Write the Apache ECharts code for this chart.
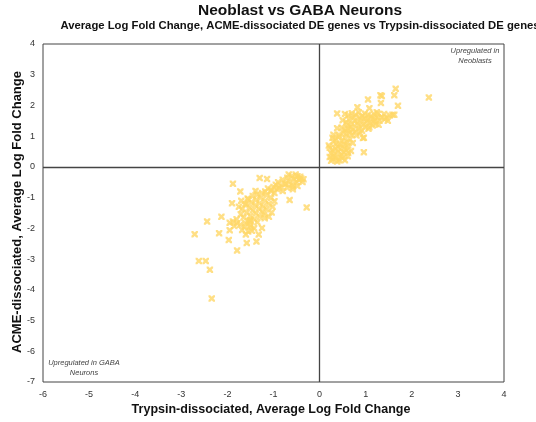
<!DOCTYPE html>
<html><head><meta charset="utf-8">
<script src="https://cdn.jsdelivr.net/npm/echarts@6/dist/echarts.min.js"></script>
<style>html,body{margin:0;padding:0;background:#fff}#c{width:536px;height:422px}</style>
</head><body><div id="c"></div>
<script>
var titleText = "Neoblast vs GABA Neurons";
var subtitleText = "Average Log Fold Change, ACME-dissociated DE genes vs Trypsin-dissociated DE genes";
var xName = "Trypsin-dissociated, Average Log Fold Change";
var yName = "ACME-dissociated, Average Log Fold Change";
var xTicks = [-6,-5,-4,-3,-2,-1,0,1,2,3,4];
var yTicks = [-7,-6,-5,-4,-3,-2,-1,0,1,2,3,4];
var noteNeoblast = "Upregulated in\nNeoblasts";
var noteGaba = "Upregulated in GABA\nNeurons";

var upperCluster = [
[2.37,2.26],[1.65,2.54],[1.62,2.33],[1.35,2.31],[1.32,2.33],[1.33,2.08],[1.05,2.19],[0.82,1.94],[1.08,1.91],[1.70,1.99],
[0.38,1.74],[1.24,1.78],[1.27,1.73],[1.26,1.62],[1.40,1.72],[1.52,1.67],[1.58,1.70],[1.62,1.70],[1.48,1.50],[1.41,1.55],
[1.28,1.37],[1.08,1.29],[1.06,1.24],[0.96,0.95],[0.96,0.48],[0.38,1.26],[0.61,0.35],[0.94,0.94],
[0.55,1.72],[0.62,1.68],[0.70,1.75],[0.78,1.70],[0.85,1.78],[0.92,1.66],[0.98,1.74],[1.05,1.70],[1.12,1.65],[1.18,1.72],
[0.74,1.62],[0.88,1.60],[1.00,1.58],[1.15,1.58],
[0.50,1.52],[0.58,1.45],[0.64,1.55],[0.70,1.40],[0.76,1.50],[0.82,1.44],[0.90,1.52],[0.95,1.38],[1.02,1.47],[1.10,1.42],
[0.60,1.36],[0.68,1.30],[0.85,1.35],[1.18,1.48],[1.22,1.40],
[0.48,1.28],[0.55,1.20],[0.62,1.25],[0.66,1.12],[0.72,1.22],[0.78,1.15],[0.84,1.25],[0.88,1.10],[0.92,1.18],[0.58,1.08],
[0.70,1.05],[0.80,1.02],[0.52,1.12],
[0.28,0.95],[0.35,0.88],[0.42,0.98],[0.48,0.85],[0.55,0.95],[0.60,0.80],[0.66,0.90],[0.72,0.78],[0.44,0.72],[0.52,0.75],
[0.36,0.76],[0.30,0.82],[0.62,0.70],[0.40,0.65],
[0.22,0.62],[0.28,0.55],[0.34,0.60],[0.40,0.50],[0.46,0.58],[0.52,0.48],[0.58,0.55],[0.25,0.45],[0.32,0.42],[0.48,0.40],
[0.62,0.45],[0.68,0.52],[0.20,0.70],[0.55,0.62],
[0.22,0.32],[0.28,0.25],[0.35,0.30],[0.42,0.22],[0.50,0.28],[0.38,0.18],[0.25,0.20],[0.55,0.22],[0.30,0.35],[0.45,0.34],
[1.05,1.55],[1.15,1.35],[1.20,1.55],[1.30,1.50],[0.98,1.30],[1.34,1.62],[1.45,1.60],[0.42,1.05],[0.30,1.05]
];

var lowerCluster = [
[-1.30,-0.36],[-1.14,-0.39],[-1.88,-0.55],[-1.72,-0.80],[-1.56,-1.03],[-1.90,-1.18],[-2.13,-1.62],[-2.44,-1.78],[-1.95,-1.82],[-1.95,-2.06],
[-2.18,-2.16],[-2.71,-2.19],[-1.97,-2.38],[-1.58,-2.48],[-1.37,-2.43],[-1.32,-2.20],[-1.25,-1.99],[-1.47,-2.08],[-1.60,-2.20],[-1.79,-2.72],
[-2.62,-3.06],[-2.47,-3.06],[-2.38,-3.35],[-2.34,-4.28],[-0.65,-1.08],[-0.28,-1.32],[-0.67,-0.25],[-0.52,-0.25],[-0.42,-0.32],[-0.37,-0.49],
[-0.48,-0.62],[-0.58,-0.73],[-0.74,-0.56],[-0.88,-0.69],[-1.05,-0.79],[-1.04,-1.48],[-1.10,-1.62],[-1.19,-1.67],[-1.51,-1.76],[-1.61,-1.83],
[-1.79,-1.83],[-1.71,-1.54],[-1.59,-1.21],[-1.39,-0.78],[-1.50,-1.73],[-1.50,-1.94],
[-0.60,-0.30],[-0.70,-0.35],[-0.55,-0.40],[-0.45,-0.42],[-0.80,-0.42],[-0.65,-0.48],[-0.50,-0.50],[-0.90,-0.50],[-0.75,-0.55],[-0.60,-0.58],
[-0.40,-0.38],[-0.85,-0.62],[-0.95,-0.58],[-1.00,-0.65],[-0.70,-0.68],[-1.05,-0.75],[-0.92,-0.72],[-0.80,-0.78],[-1.12,-0.70],[-0.48,-0.30],
[-0.35,-0.40],[-0.58,-0.65],[-1.18,-0.80],[-0.98,-0.85],
[-1.25,-0.85],[-1.35,-0.90],[-1.15,-0.92],[-1.45,-0.95],[-1.28,-1.00],[-1.05,-1.00],[-1.55,-1.05],[-1.38,-1.08],[-1.18,-1.10],[-1.48,-1.15],
[-1.30,-1.18],[-1.10,-1.20],[-1.62,-1.22],[-1.40,-1.25],[-1.22,-1.28],[-1.52,-1.32],[-1.32,-1.35],[-1.15,-1.38],[-1.45,-1.42],[-1.25,-1.45],
[-1.58,-1.48],[-1.38,-1.52],[-1.20,-1.55],[-1.50,-1.60],[-1.30,-1.62],[-1.65,-1.65],[-1.42,-1.70],[-1.55,-1.75],[-1.35,-1.80],[-1.68,-1.38],
[-1.02,-1.30],[-0.98,-1.12],[-1.70,-1.10],[-1.75,-1.30],
[-1.80,-1.70],[-1.88,-1.78],[-1.72,-1.88],[-1.62,-1.95],[-1.85,-1.92],[-1.50,-1.90],[-1.42,-2.00],[-1.55,-2.10],[-1.68,-2.05]
];

var xMark = 'path://M0,0 L2.7,0 L5,2.3 L7.3,0 L10,0 L10,2.7 L7.7,5 L10,7.3 L10,10 L7.3,10 L5,7.7 L2.7,10 L0,10 L0,7.3 L2.3,5 L0,2.7 Z';
var chart = echarts.init(document.getElementById('c'), null, {renderer:'canvas'});
var FF = 'Liberation Sans, Arial, sans-serif';
chart.setOption({
  animation:false,
  backgroundColor:'#fff',
  grid:{left:43,right:32,top:44,bottom:40,show:true,borderColor:'#444',borderWidth:1,backgroundColor:'transparent'},
  xAxis:{type:'value',min:-6,max:4,interval:1,
    axisLine:{show:false},axisTick:{show:false},splitLine:{show:false},
    axisLabel:{color:'#333',fontSize:9,fontFamily:FF,margin:8}},
  yAxis:{type:'value',min:-7,max:4,interval:1,
    axisLine:{show:false},axisTick:{show:false},splitLine:{show:false},
    axisLabel:{color:'#333',fontSize:9,fontFamily:FF,margin:8}},
  series:[{
    type:'scatter',symbol:xMark,symbolSize:6.5,
    itemStyle:{color:'#FFD766'},
    data:upperCluster.concat(lowerCluster),
    markLine:{silent:true,symbol:'none',label:{show:false},
      lineStyle:{color:'#444',width:1.3,type:'solid'},
      data:[{xAxis:0},{yAxis:0}]}
  }],
  graphic:[
    {type:'text',x:300,y:3,style:{text:titleText,fill:'#111',font:'bold 15.5px '+FF,textAlign:'center'}},
    {type:'text',x:300,y:20,style:{text:subtitleText,fill:'#111',font:'bold 11.3px '+FF,textAlign:'center'}},
    {type:'text',x:271,y:403,style:{text:xName,fill:'#111',font:'bold 12.5px '+FF,textAlign:'center'}},
    {type:'text',x:17,y:212,rotation:Math.PI/2,style:{text:yName,fill:'#111',font:'bold 13px '+FF,textAlign:'center',textVerticalAlign:'middle'}},
    {type:'text',x:475,y:46,style:{text:noteNeoblast,fill:'#444',font:'italic 7.5px '+FF,textAlign:'center',lineHeight:10}},
    {type:'text',x:84,y:358,style:{text:noteGaba,fill:'#444',font:'italic 7.5px '+FF,textAlign:'center',lineHeight:10}}
  ]
});
</script></body></html>
